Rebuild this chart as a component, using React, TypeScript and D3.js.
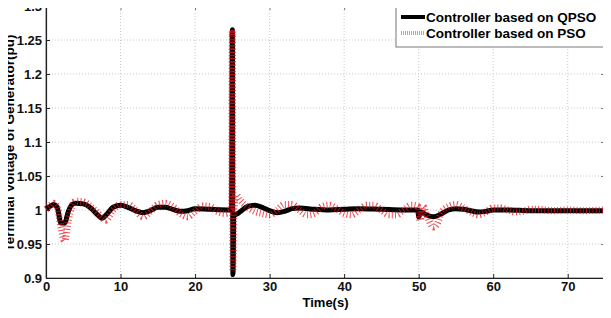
import * as d3 from "d3";
import { useRef, useEffect } from "react";

// time (s) and terminal voltage (pu)
const qpsoTime = [0, 0.5, 1, 1.5, 2, 2.5, 3, 3.5, 4, 5, 6, 7, 7.5, 8, 9, 10, 11, 12, 13, 14, 15, 16, 17, 18, 19, 20, 22, 24.9, 25, 25.08, 25.2, 25.6, 26, 27, 28, 29, 30, 31, 32, 33, 34, 36, 38, 40, 42, 45, 48, 49.9, 50, 50.3, 51, 52, 53, 54, 55, 56, 57, 58, 59, 60, 62, 65, 70, 75];
const qpsoValue = [1.002, 1.005, 1.008, 1.004, 0.981, 0.981, 0.998, 1.008, 1.01, 1.009, 1.003, 0.992, 0.988, 0.992, 1.004, 1.007, 1.004, 0.999, 0.996, 0.999, 1.004, 1.004, 1.001, 0.998, 0.999, 1.002, 1.001, 1.0, 1.265, 0.905, 0.992, 0.994, 0.997, 1.005, 1.007, 1.004, 0.999, 0.996, 0.998, 1.002, 1.003, 1.001, 1.0, 1.001, 1.002, 1.001, 1.0, 1.0, 0.99, 0.997, 0.993, 0.99, 0.994, 1.0, 1.002, 1.001, 0.999, 0.997, 0.998, 1.0, 1.0, 0.999, 0.999, 0.999];

const psoTime = [0, 0.5, 1, 1.5, 2, 2.5, 3, 3.5, 4, 5, 6, 7, 8, 9, 10, 11, 12, 13, 14, 15, 16, 17, 18, 19, 20, 21, 22, 23, 24, 24.9, 25, 25.08, 25.2, 25.5, 26, 27, 28, 29, 30, 31, 32, 33, 34, 35, 36, 37, 38, 39, 40, 41, 42, 43, 44, 45, 46, 47, 48, 49, 49.9, 50.2, 50.6, 51, 52, 52.5, 53, 54, 55, 56, 57, 58, 59, 60, 61, 62, 63, 64, 65, 66, 68, 70, 72, 75];
const psoValue = [1.001, 1.006, 1.01, 1.004, 0.975, 0.955, 0.985, 1.005, 1.013, 1.012, 1.005, 0.995, 0.985, 1.0, 1.008, 1.008, 1.0, 0.99, 0.998, 1.008, 1.01, 1.005, 0.995, 0.99, 0.998, 1.006, 1.005, 0.998, 0.995, 1.0, 1.26, 0.91, 1.0, 1.022, 1.015, 1.005, 0.998, 0.995, 0.993, 1.0, 1.008, 1.008, 1.0, 0.993, 0.995, 1.005, 1.007, 1.002, 0.995, 0.993, 1.0, 1.007, 1.007, 1.0, 0.993, 0.993, 1.0, 1.007, 1.005, 0.985, 1.005, 0.995, 0.975, 0.98, 0.995, 1.005, 1.008, 1.003, 0.997, 0.993, 0.997, 1.003, 1.003, 1.0, 0.997, 0.998, 1.001, 1.001, 0.999, 1.0, 0.999, 1.0];

const xTicks = [0, 10, 20, 30, 40, 50, 60, 70];
const yTicks = [0.9, 0.95, 1, 1.05, 1.1, 1.15, 1.2, 1.25, 1.3];
const legendLabels = ["Controller based on QPSO", "Controller based on PSO"];

const W = 611, H = 318;
const margin = { top: 6, right: 6, bottom: 40, left: 46 };
const font = "'Liberation Sans', Arial, sans-serif";

const App = () => {
    const svgRef = useRef<SVGSVGElement>(null);

    useEffect(() => {
        const svg = d3.select(svgRef.current);
        svg.selectAll("*").remove();

        const x = d3.scaleLinear().domain([0, 75]).range([margin.left, W - margin.right]);
        const y = d3.scaleLinear().domain([0.9, 1.3]).range([H - margin.bottom, margin.top]);

        // grid
        const grid = svg.append("g");
        grid.selectAll(".gx").data(xTicks.filter(t => t > 0)).enter().append("line")
            .attr("x1", d => x(d)).attr("x2", d => x(d))
            .attr("y1", y(0.9)).attr("y2", y(1.3))
            .attr("stroke", "#c8c8c8").attr("stroke-dasharray", "1,2");
        grid.selectAll(".gy").data(yTicks.filter(t => t > 0.9 && t < 1.3)).enter().append("line")
            .attr("x1", x(0)).attr("x2", x(75))
            .attr("y1", d => y(d)).attr("y2", d => y(d))
            .attr("stroke", "#c8c8c8").attr("stroke-dasharray", "1,2");

        // box
        svg.append("rect")
            .attr("x", x(0)).attr("y", y(1.3))
            .attr("width", x(75) - x(0)).attr("height", y(0.9) - y(1.3))
            .attr("fill", "none").attr("stroke", "#777").attr("stroke-width", 1);

        // mirrored ticks on top and right
        svg.append("g").attr("transform", `translate(0,${y(1.3)})`)
            .call(d3.axisTop(x).tickValues(xTicks).tickSize(-4).tickSizeOuter(0).tickFormat(() => ""))
            .call(g => g.select(".domain").remove())
            .selectAll("line").attr("stroke", "#777");
        svg.append("g").attr("transform", `translate(${x(75)},0)`)
            .call(d3.axisRight(y).tickValues(yTicks).tickSize(-4).tickSizeOuter(0).tickFormat(() => ""))
            .call(g => g.select(".domain").remove())
            .selectAll("line").attr("stroke", "#777");

        // axes
        const xAxis = d3.axisBottom(x).tickValues(xTicks).tickSize(-4).tickSizeOuter(0).tickPadding(4);
        const gx = svg.append("g").attr("transform", `translate(0,${y(0.9)})`).call(xAxis);
        const yAxis = d3.axisLeft(y).tickValues(yTicks).tickFormat(d => `${d}`).tickSize(-4).tickSizeOuter(0).tickPadding(4);
        const gy = svg.append("g").attr("transform", `translate(${x(0)},0)`).call(yAxis);
        [gx, gy].forEach(g => {
            g.select(".domain").attr("stroke", "#222").attr("stroke-width", 1.2);
            g.selectAll(".tick line").attr("stroke", "#222");
            g.selectAll("text")
                .style("font-family", font).style("font-weight", "bold")
                .style("font-size", "13px").attr("fill", "#111");
        });

        // data lines
        const line = d3.line<[number, number]>()
            .x(d => x(d[0]))
            .y(d => y(d[1]))
            .curve(d3.curveMonotoneX);

        const qpso = qpsoTime.map((t, i) => [t, qpsoValue[i]] as [number, number]);
        const pso = psoTime.map((t, i) => [t, psoValue[i]] as [number, number]);

        svg.append("path").attr("d", line(qpso))
            .attr("fill", "none").attr("stroke", "#000").attr("stroke-width", 5)
            .attr("stroke-linejoin", "round");
        svg.append("path").attr("d", line(pso))
            .attr("fill", "none").attr("stroke", "#e8141e").attr("stroke-width", 7)
            .attr("stroke-dasharray", "1,2.2").attr("opacity", 0.75);

        // axis labels
        svg.append("text")
            .attr("x", (x(0) + x(75)) / 2).attr("y", 307)
            .attr("text-anchor", "middle")
            .style("font-family", font).style("font-weight", "bold").style("font-size", "13px")
            .text("Time(s)");
        svg.append("text")
            .attr("transform", `translate(14,${(y(0.9) + y(1.3)) / 2 + 1}) rotate(-90)`)
            .attr("text-anchor", "middle")
            .attr("textLength", 217).attr("lengthAdjust", "spacingAndGlyphs")
            .style("font-family", font).style("font-weight", "bold").style("font-size", "12px")
            .text("Terminal Voltage of Generator(pu)");

        // legend
        const lg = svg.append("g");
        lg.append("rect").attr("x", 396).attr("y", y(1.3)).attr("width", 208).attr("height", 41)
            .attr("fill", "#fff").attr("stroke", "#777");
        legendLabels.forEach((label, i) => {
            const ly = 17 + i * 16;
            lg.append("line").attr("x1", 401).attr("x2", 425).attr("y1", ly).attr("y2", ly)
                .attr("stroke", i === 0 ? "#000" : "#f08a8f")
                .attr("stroke-width", 4)
                .attr("stroke-dasharray", i === 0 ? null : "1,1");
            lg.append("text").attr("x", 426).attr("y", ly + 5)
                .style("font-family", font).style("font-weight", "bold").style("font-size", "13.5px")
                .text(label);
        });
    }, []);

    return (
        <div style={{ margin: -8 }}>
            <svg ref={svgRef} width={W} height={H} style={{ display: "block", background: "#fff" }} />
        </div>
    );
};

export default App;
